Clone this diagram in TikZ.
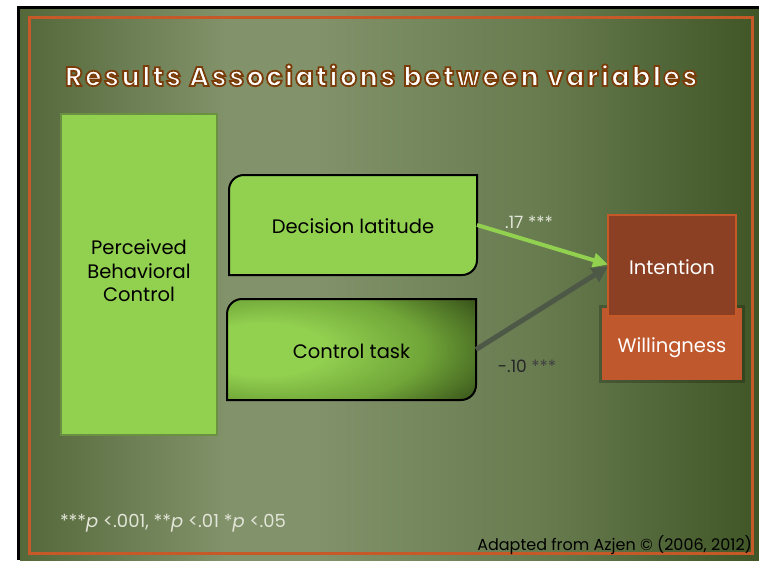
\documentclass[tikz,border=0pt]{standalone}
\usepackage{fontspec}
\setmainfont{Poppins}
\usetikzlibrary{arrows.meta}
\definecolor{lgreen}{RGB}{146,208,80}
\definecolor{pbcedge}{RGB}{105,145,65}
\definecolor{bgleft}{RGB}{84,104,58}
\definecolor{bgin}{RGB}{130,146,106}
\definecolor{bgmid}{RGB}{104,124,80}
\definecolor{bgout}{RGB}{64,86,38}
\definecolor{ctmid}{RGB}{112,165,56}
\definecolor{ctdark}{RGB}{60,88,28}
\definecolor{framecol}{RGB}{197,90,40}
\definecolor{intfill}{RGB}{139,64,35}
\definecolor{wilfill}{RGB}{191,88,45}
\definecolor{arrgray}{RGB}{78,88,70}
\definecolor{lbllight}{RGB}{226,229,216}
\pgfdeclarehorizontalshading{slidebg}{100bp}{color(0bp)=(bgleft); color(25bp)=(bgleft); color(39bp)=(bgin); color(45bp)=(bgin); color(60bp)=(bgmid); color(75bp)=(bgout); color(100bp)=(bgout)}
\pgfdeclareradialshading{ctshade}{\pgfpoint{-22bp}{0bp}}{color(0bp)=(lgreen); color(13bp)=(lgreen); color(28bp)=(ctmid); color(41bp)=(ctdark); color(70bp)=(ctdark)}
\begin{document}
\begin{tikzpicture}[x=1pt,y=-1pt,
  every node/.style={inner sep=0pt, outer sep=0pt},
  boxfont/.style={font=\fontsize{19.5}{23.5}\selectfont},
  lblfont/.style={font=\fontsize{17}{20}\selectfont},
  boxline/.style={draw=black, line width=2pt},
  greenarrow/.style={draw=lgreen, line width=4pt, -{Triangle[length=15pt,width=14pt]}},
  grayarrow/.style={draw=arrgray, line width=5pt, -{Triangle[length=16pt,width=16pt]}}]
\useasboundingbox (0,0) rectangle (759,560);
\fill[white] (0,0) rectangle (759,560);
\fill[black] (17,6) rectangle (759,560);
\shade[shading=slidebg] (20,9) rectangle (759,560);
\draw[framecol, line width=3pt] (29.5,17.5) rectangle (752,553.5);
% title
\node[anchor=base west, text=white, font=\fontsize{27}{32}\selectfont\bfseries\addfontfeatures{LetterSpace=9}] (title) at (65,86)
  {\special{pdf:literal direct 2 Tr 1.8 w 0.478 0.239 0.039 RG}Results Associations between variables\special{pdf:literal direct 0 Tr}};
% PBC
\node[draw=pbcedge, line width=1.5pt, fill=lgreen, minimum width=156pt, minimum height=321pt, align=center, boxfont, text depth=7pt] (pbc) at (139,274.5) {Perceived\\Behavioral\\Control};
% Decision latitude
\path[fill=lgreen, boxline] (229,190) .. controls (229,181.7) and (235.7,175) .. (244,175) -- (477,175) -- (477,260) .. controls (477,268.3) and (470.3,275) .. (462,275) -- (229,275) -- cycle;
\node[boxfont, minimum width=248pt, minimum height=100pt, text height=17.7pt, text depth=0pt] (dl) at (353,225) {Decision latitude};
% Control task
\shade[shading=ctshade] (227,314) .. controls (227,305.7) and (233.7,299) .. (242,299) -- (476,299) -- (476,385) .. controls (476,393.3) and (469.3,400) .. (461,400) -- (227,400) -- cycle;
\path[boxline] (227,314) .. controls (227,305.7) and (233.7,299) .. (242,299) -- (476,299) -- (476,385) .. controls (476,393.3) and (469.3,400) .. (461,400) -- (227,400) -- cycle;
\node[boxfont, minimum width=249pt, minimum height=101pt, text height=18.7pt, text depth=0pt] (ct) at (351.5,349.5) {Control task};
% Willingness and Intention
\fill[black, opacity=.22] (599,305) rectangle (745,383);
\node[fill=wilfill, minimum width=140pt, minimum height=72pt, text=white, boxfont, text height=17.7pt, text depth=0pt] (wil) at (672,344) {Willingness};
\node[fill=intfill, draw=framecol, line width=2.5pt, minimum width=128pt, minimum height=101pt, text=white, boxfont, text height=18.7pt, text depth=0pt] (int) at (672,265.5) {Intention};
% arrows
\draw[grayarrow] (ct.east) -- ([yshift=-1pt]int.west);
\draw[greenarrow] (dl.east) -- ([yshift=1pt]int.west);
\node[text=lbllight, lblfont] (l17) at (529,222) {.17 ***};
\node[lblfont] (l10) at (527,366) {\textcolor{black!85}{-.10} \textcolor{black!75}{***}};
% notes
\node[anchor=west, text=lbllight, font=\fontsize{18}{21}\selectfont] (note) at (60,523) {***\textit{p} <.001, **\textit{p} <.01 *\textit{p} <.05};
\node[anchor=east, font=\fontsize{16}{19}\selectfont] (src) at (752,545) {Adapted from Azjen © (2006, 2012)};
\end{tikzpicture}
\end{document}
